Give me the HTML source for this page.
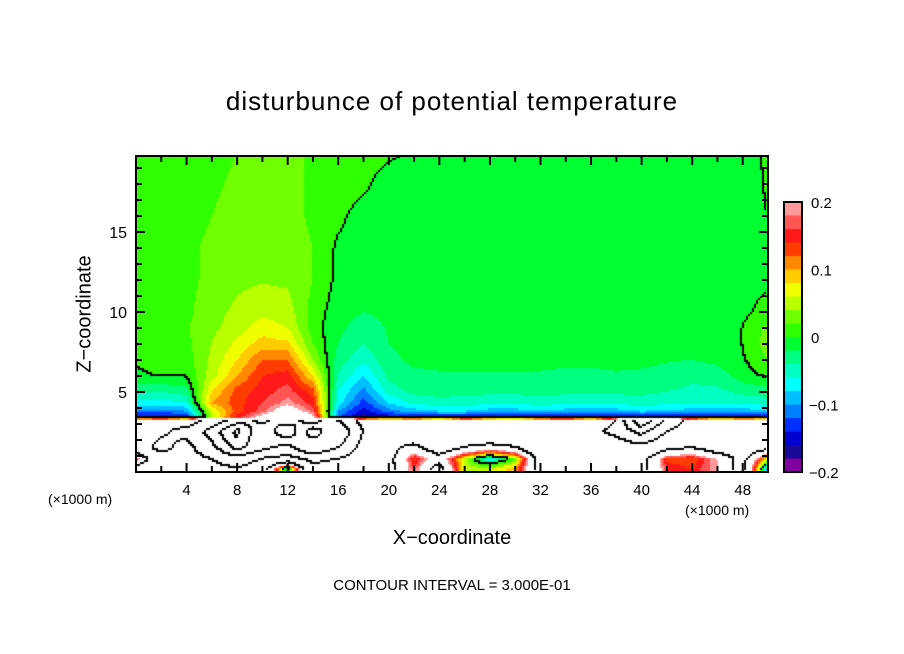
<!DOCTYPE html>
<html><head><meta charset="utf-8"><style>
body{margin:0;background:#fff;width:904px;height:654px;overflow:hidden;position:relative;font-family:"Liberation Sans",sans-serif;}
.t{position:absolute;color:#000;white-space:nowrap;}
</style></head><body>
<div class="t" style="left:0;width:904px;text-align:center;top:86px;font-size:26px;letter-spacing:1px;">disturbunce of potential temperature</div>
<canvas id="cv" width="904" height="654" style="position:absolute;left:0;top:0"></canvas>
<svg id="sv" width="904" height="654" style="position:absolute;left:0;top:0"></svg>
<div class="t" style="left:0;width:904px;text-align:center;top:527px;font-size:20px;">X−coordinate</div>
<div class="t" style="left:85px;top:314px;font-size:20px;transform:translate(-50%,-50%) rotate(-90deg);">Z−coordinate</div>
<div class="t" style="left:48px;top:491px;font-size:14px;">(×1000 m)</div>
<div class="t" style="left:685px;top:502px;font-size:14px;">(×1000 m)</div>
<div class="t" style="left:0;width:904px;text-align:center;top:577px;font-size:15px;">CONTOUR INTERVAL = 3.000E-01</div>
<script>
const xCoords=[0,2,4,6,8,10,12,14,16,18,20,22,24,26,28,30,32,34,36,38,40,42,44,46,48,50];
const zLevels=[0.2,0.8,1.5,2.5,3.2,3.4,3.8,4.3,5,6,7,8,9,10,12,14,16,18,20];
const fZ0_2=[.35,.4,.45,.5,.6,.4,-.05,.5,.45,.4,.35,.16,.35,.05,.05,.1,.35,.4,.45,.4,.35,.16,.14,.2,.35,-.1];
const fZ0_8=[.15,.45,.5,.6,.8,.6,.5,.7,.6,.45,.35,.13,.25,.05,-.08,.02,.35,.4,.45,.4,.35,.13,.12,.2,.35,.05];
const fZ1_5=[.4,.7,.5,.8,1.3,1.0,.8,1.2,.9,.5,.35,.25,.4,.3,.25,.3,.45,.4,.35,.4,.5,.35,.3,.4,.45,.35];
const fZ2_5=[.4,.55,.7,1.0,1.6,.9,1.5,.7,1.2,.6,.35,.5,.4,.4,.5,.4,.35,.45,.5,.7,1.0,.6,.45,.35,.5,.4];
const fZ3_2=[.45,.5,.4,.7,1.0,1.3,1.0,1.4,.9,.5,.4,.45,.35,.5,.4,.35,.45,.5,.4,.6,1.5,.8,.5,.4,.45,.4];
const fZ3_4=[-.16,-.16,-.15,.05,.15,.22,.3,.22,-.12,-.17,-.16,-.15,-.15,-.15,-.16,-.16,-.15,-.15,-.16,-.16,-.15,-.15,-.16,-.16,-.16,-.15];
const fZ3_8=[-.11,-.11,-.1,.06,.13,.17,.24,.17,-.1,-.15,-.11,-.09,-.08,-.08,-.09,-.09,-.085,-.09,-.09,-.09,-.08,-.085,-.09,-.09,-.09,-.09];
const fZ4_3=[-.07,-.07,-.06,.1,.13,.16,.19,.15,-.07,-.13,-.08,-.055,-.05,-.05,-.055,-.055,-.05,-.055,-.055,-.055,-.05,-.055,-.06,-.06,-.055,-.05];
const fZ5=[-.04,-.04,-.03,.08,.13,.15,.17,.13,-.06,-.11,-.05,-.035,-.03,-.035,-.035,-.035,-.035,-.035,-.035,-.035,-.035,-.04,-.045,-.045,-.035,-.03];
const fZ6=[-.005,.002,.002,.05,.1,.14,.15,.08,-.04,-.08,-.035,-.025,-.022,-.022,-.022,-.022,-.022,-.025,-.025,-.022,-.024,-.028,-.035,-.03,-.01,.005];
const fZ7=[.005,.008,.01,.045,.08,.12,.12,.04,-.03,-.055,-.025,-.015,-.015,-.015,-.015,-.015,-.015,-.015,-.015,-.015,-.015,-.018,-.02,-.015,-.003,.02];
const fZ8=[.006,.01,.015,.04,.065,.09,.085,.02,-.02,-.04,-.02,-.015,-.012,-.012,-.012,-.012,-.012,-.012,-.012,-.012,-.012,-.015,-.015,-.01,.0,.03];
const fZ9=[.005,.01,.018,.035,.05,.07,.06,.01,-.015,-.03,-.018,-.012,-.012,-.012,-.01,-.01,-.01,-.01,-.01,-.01,-.01,-.01,-.012,-.01,.0,.025];
const fZ10=[.003,.008,.015,.032,.045,.055,.05,.012,-.01,-.02,-.015,-.012,-.012,-.012,-.01,-.01,-.01,-.01,-.01,-.01,-.01,-.01,-.01,-.01,-.006,.008];
const fZ12=[.003,.01,.015,.025,.035,.038,.036,.02,-.005,-.012,-.01,-.01,-.01,-.01,-.01,-.01,-.01,-.01,-.01,-.01,-.01,-.01,-.01,-.01,-.008,-.004];
const fZ14=[.005,.01,.015,.025,.033,.035,.033,.02,-.003,-.01,-.01,-.01,-.01,-.01,-.01,-.01,-.01,-.01,-.01,-.01,-.01,-.01,-.01,-.01,-.01,-.005];
const fZ16=[.01,.01,.01,.02,.03,.035,.03,.015,.005,-.008,-.01,-.01,-.01,-.01,-.01,-.01,-.01,-.01,-.01,-.01,-.01,-.01,-.01,-.01,-.01,.0];
const fZ18=[.01,.01,.01,.015,.025,.035,.03,.015,.01,.005,-.01,-.01,-.01,-.01,-.01,-.01,-.01,-.01,-.01,-.01,-.01,-.01,-.01,-.01,-.01,.002];
const fZ20=[.01,.01,.01,.01,.02,.03,.03,.015,.01,.01,.005,-.002,-.01,-.01,-.01,-.01,-.01,-.01,-.01,-.01,-.01,-.01,-.01,-.01,-.01,.003];
const field=[fZ0_2,fZ0_8,fZ1_5,fZ2_5,fZ3_2,fZ3_4,fZ3_8,fZ4_3,fZ5,fZ6,fZ7,fZ8,fZ9,fZ10,fZ12,fZ14,fZ16,fZ18,fZ20];
const colorbarTicks=[0.2,0.1,0,-0.1,-0.2];
const xTicks=[4,8,12,16,20,24,28,32,36,40,44,48];
const yTicks=[5,10,15];
const contourLevels=[0,0.3,0.6,0.9,1.2,1.5];
const palette=["#8000a0","#1a0a9a","#0000d0","#0030ff","#0080ff","#00c0ff","#00ffff","#00ffc0","#00ff80","#00ff30","#30ff00","#70ff00","#b8ff00","#f0ff00","#ffcc00","#ff8800","#ff3c00","#ff1a1a","#ff5555","#ff9a9a"];
const X0=136,X1=768,Y0=156,Y1=472,XMAX=50,ZMAX=19.75;
const xs=x=>X0+x/XMAX*(X1-X0);
const zs=z=>Y1-z/ZMAX*(Y1-Y0);
function idx(arr,v){let i=0;while(i<arr.length-2&&v>arr[i+1])i++;return i;}
function val(x,z){
  const i=idx(xCoords,x),j=idx(zLevels,z);
  let tx=(x-xCoords[i])/(xCoords[i+1]-xCoords[i]);tx=Math.max(0,Math.min(1,tx));
  let tz=(z-zLevels[j])/(zLevels[j+1]-zLevels[j]);tz=Math.max(0,Math.min(1,tz));
  const a=field[j][i],b=field[j][i+1],c=field[j+1][i],d=field[j+1][i+1];
  return (a*(1-tx)+b*tx)*(1-tz)+(c*(1-tx)+d*tx)*tz;
}
function col(v){if(v>=0.2||v<-0.2)return"#ffffff";return palette[Math.min(19,Math.floor((v+0.2)/0.02))];}
const cv=document.getElementById('cv'),ctx=cv.getContext('2d');
const S=2;const W=Math.round((X1-X0)/S),H=Math.round((Y1-Y0)/S);
const grid=[];
for(let r=0;r<H;r++){grid.push([]);for(let c=0;c<W;c++){
  const px=X0+c*S+S/2,py=Y0+r*S+S/2;
  const x=(px-X0)/(X1-X0)*XMAX,z=(Y1-py)/(Y1-Y0)*ZMAX;
  const v=val(x,z);grid[r].push(v);
  ctx.fillStyle=col(v);ctx.fillRect(X0+c*S,Y0+r*S,S,S);}}
ctx.fillStyle="#000";
const zLimitPy=zs(3.25);
for(let r=0;r<H-1;r++)for(let c=0;c<W-1;c++){
  const v=grid[r][c],py=Y0+r*S;
  for(const L of contourLevels){
    if(L>0 && py<zLimitPy) continue;
    if((v-L)*(grid[r][c+1]-L)<0||(v-L)*(grid[r+1][c]-L)<0){ctx.fillRect(X0+c*S,py,S,S);}
  }}
const CB={x:784,y:202,w:18,h:270};
for(let k=0;k<20;k++){ctx.fillStyle=palette[19-k];ctx.fillRect(CB.x,CB.y+k*CB.h/20,CB.w,CB.h/20+0.5);}
const svg=document.getElementById('sv');const NS="http://www.w3.org/2000/svg";
function mk(tag,attrs){const e=document.createElementNS(NS,tag);for(const k in attrs)e.setAttribute(k,attrs[k]);svg.appendChild(e);return e;}
const frame=mk('rect',{x:X0,y:Y0,width:X1-X0,height:Y1-Y0,fill:'none',stroke:'#000','stroke-width':2});


const cbf=mk('rect',{x:CB.x,y:CB.y,width:CB.w,height:CB.h,fill:'none',stroke:'#000','stroke-width':2});


for(let x=2;x<XMAX;x+=2){const L=(x%4===0)?9:6;const px=xs(x);
  const t1=mk('line',{x1:px,y1:Y0,x2:px,y2:Y0+L,stroke:'#000','stroke-width':2});
  
  
  const t2=mk('line',{x1:px,y1:Y1,x2:px,y2:Y1-L,stroke:'#000','stroke-width':2});
  
  }
for(let z=1;z<ZMAX;z+=1){const L=(z%5===0)?9:6;const py=zs(z);
  const t1=mk('line',{x1:X0,y1:py,x2:X0+L,y2:py,stroke:'#000','stroke-width':2});
  
  
  const t2=mk('line',{x1:X1,y1:py,x2:X1-L,y2:py,stroke:'#000','stroke-width':2});
  
  }
xTicks.forEach(x=>{const t=mk('text',{x:xs(x),y:495,'text-anchor':'middle','font-size':15,'font-family':'Liberation Sans, sans-serif'});t.textContent=x;
  
  });
yTicks.forEach(z=>{const t=mk('text',{x:127,y:zs(z)+6,'text-anchor':'end','font-size':16,'font-family':'Liberation Sans, sans-serif'});t.textContent=z;
  
  });
colorbarTicks.forEach(v=>{const py=CB.y+(0.2-v)/0.4*CB.h;const t=mk('text',{x:v<0?809:811,y:py+6,'font-size':15,'font-family':'Liberation Sans, sans-serif'});t.textContent=v===0?'0':(v<0?'−'+(-v):String(v));
  
  });
</script>
</body></html>
